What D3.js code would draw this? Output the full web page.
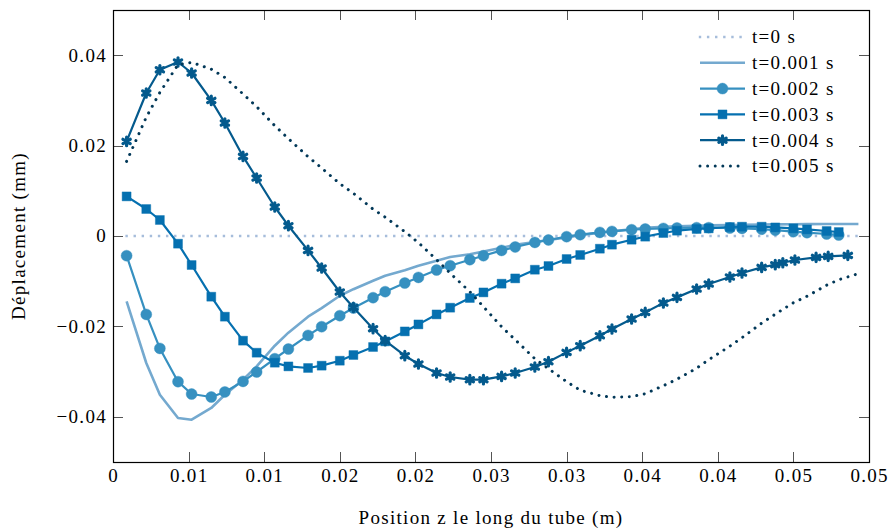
<!DOCTYPE html>
<html><head><meta charset="utf-8">
<script src="https://cdn.jsdelivr.net/npm/d3@7"></script>
<style>
body{margin:0;background:#fff}
svg{display:block}
text{font-family:"Liberation Serif","Times New Roman",serif;fill:#000;letter-spacing:1.3px}
</style>
</head><body>
<svg id="chart" width="889" height="531"></svg>
<script>
// ---- data (positions in m, displacement in mm) ----
const zGrid = [0.0009,0.0022,0.0031,0.0043,0.0052,0.0065,0.0074,0.0086,0.0095,0.0107,
  0.0116,0.0129,0.0138,0.0150,0.0159,0.0172,0.0180,0.0193,0.0202,0.0214,
  0.0223,0.0236,0.0245,0.0257,0.0266,0.0279,0.0288,0.0300,0.0309,0.0322,
  0.0330,0.0343,0.0352,0.0364,0.0373,0.0386,0.0394,0.0408,0.0416,0.0429,
  0.0438,0.0450,0.0459,0.0472,0.0480];
const zEnd = [0.0493];
const zStarTail = [0.0443,0.0451,0.0465,0.0473,0.0486];

const u_t0 = [0, 0];
const u_t001 = [-0.01447,-0.02810,-0.03511,-0.04027,-0.04064,-0.03805,-0.03511,-0.03179,-0.02885,-0.02427,
  -0.02139,-0.01785,-0.01597,-0.01321,-0.01177,-0.00989,-0.00878,-0.00757,-0.00657,-0.00546,
  -0.00465,-0.00403,-0.00341,-0.00259,-0.00197,-0.00133,-0.00088,-0.00033,0.00018,0.00073,
  0.00106,0.00150,0.00184,0.00206,0.00215,0.00228,0.00235,0.00243,0.00248,0.00254,
  0.00257,0.00261,0.00263,0.00265,0.00265,0.00266];
const u_t002 = [-0.00436,-0.01735,-0.02487,-0.03223,-0.03496,-0.03562,-0.03451,-0.03217,-0.03009,-0.02715,
  -0.02500,-0.02199,-0.02007,-0.01763,-0.01593,-0.01365,-0.01232,-0.01040,-0.00916,-0.00752,
  -0.00657,-0.00524,-0.00436,-0.00319,-0.00243,-0.00142,-0.00088,-0.00015,0.00029,0.00080,
  0.00102,0.00139,0.00155,0.00168,0.00177,0.00184,0.00184,0.00177,0.00168,0.00150,
  0.00128,0.00095,0.00073,0.00044,0.00022];
const u_t003 = [0.00876,0.00597,0.00354,-0.00170,-0.00642,-0.01343,-0.01785,-0.02316,-0.02582,-0.02803,
  -0.02885,-0.02920,-0.02869,-0.02759,-0.02633,-0.02456,-0.02332,-0.02111,-0.01956,-0.01735,
  -0.01586,-0.01372,-0.01248,-0.01055,-0.00938,-0.00746,-0.00664,-0.00509,-0.00420,-0.00281,
  -0.00192,-0.00082,-0.00015,0.00066,0.00117,0.00155,0.00168,0.00199,0.00206,0.00206,
  0.00190,0.00168,0.00146,0.00111,0.00088];
const u_t004 = [0.02093,0.03164,0.03679,0.03850,0.03606,0.03000,0.02500,0.01761,0.01283,0.00642,
  0.00228,-0.00319,-0.00708,-0.01239,-0.01580,-0.02051,-0.02316,-0.02648,-0.02832,-0.03031,
  -0.03119,-0.03179,-0.03179,-0.03106,-0.03031,-0.02898,-0.02781,-0.02575,-0.02427,-0.02206,
  -0.02058,-0.01836,-0.01690,-0.01482,-0.01358,-0.01173,-0.01062,-0.00907,-0.00819,-0.00695,
  -0.00635,-0.00591,-0.00531,-0.00473,-0.00451,-0.00429];
const u_t005 = [0.01650,0.02628,0.03177,0.03790,0.03841,0.03690,0.03507,0.03142,0.02861,0.02440,
  0.02153,0.01754,0.01504,0.01157,0.00945,0.00593,0.00416,0.00095,-0.00148,-0.00524,
  -0.00823,-0.01232,-0.01564,-0.02007,-0.02294,-0.02715,-0.02936,-0.03223,-0.03412,-0.03533,
  -0.03566,-0.03555,-0.03489,-0.03312,-0.03168,-0.02925,-0.02737,-0.02438,-0.02250,-0.01929,
  -0.01730,-0.01476,-0.01332,-0.01088,-0.00967,-0.00834];

const seriesNames = ["t=0 s","t=0.001 s","t=0.002 s","t=0.003 s","t=0.004 s","t=0.005 s"];
const xTicks = [0,0.005,0.01,0.015,0.02,0.025,0.03,0.035,0.04,0.045,0.05];
const xTickLabels = ["0","0.01","0.01","0.02","0.02","0.03","0.03","0.04","0.04","0.05","0.05"];
const yTicks = [-0.04,-0.02,0,0.02,0.04];
const yTickLabels = ["\u22120.04","\u22120.02","0","0.02","0.04"];

// ---- build series ----
const zFull = zGrid.concat(zEnd);
const zStar = zGrid.slice(0, 41).concat(zStarTail);
const series = [
  {name: seriesNames[0], z: [zGrid[0], zEnd[0]], u: u_t0, color: "#a6bddb", dash: "0.01,8.1", cap: "square", marker: null, width: 2.4},
  {name: seriesNames[1], z: zFull, u: u_t001, color: "#74a9cf", dash: null, cap: "butt", marker: null, width: 2.6},
  {name: seriesNames[2], z: zGrid, u: u_t002, color: "#3690c0", dash: null, cap: "butt", marker: "circle", width: 2.2},
  {name: seriesNames[3], z: zGrid, u: u_t003, color: "#0570b0", dash: null, cap: "butt", marker: "square", width: 2.2},
  {name: seriesNames[4], z: zStar, u: u_t004, color: "#045a8d", dash: null, cap: "butt", marker: "star", width: 2.2},
  {name: seriesNames[5], z: zFull, u: u_t005, color: "#023858", dash: "0.01,7.6", cap: "round", marker: null, width: 3}
];

const W = 889, H = 531;
const m = {left: 113, right: 20, top: 10, bottom: 69};
const svg = d3.select("#chart");
const x = d3.scaleLinear().domain([0, 0.05]).range([m.left, W - m.right]);
const y = d3.scaleLinear().domain([-0.05, 0.05]).range([H - m.bottom, m.top]);

const g = svg.append("g");

// series
const line = d3.line().x(d => x(d[0])).y(d => y(d[1]));
function markerPath(type) {
  if (type === "circle") return d3.symbol(d3.symbolCircle, 95)();
  if (type === "square") return d3.symbol(d3.symbolSquare, 80)();
  if (type === "star") return d3.symbol(d3.symbolAsterisk, 50)();
  return null;
}
function drawMarker(sel, s, px, py) {
  const p = sel.append("path").attr("d", markerPath(s.marker))
    .attr("transform", `translate(${px},${py})`);
  if (s.marker === "star") {
    p.attr("fill", "none").attr("stroke", s.color).attr("stroke-width", 3.2).attr("stroke-linecap","round");
  } else {
    p.attr("fill", s.color).attr("stroke", s.color).attr("stroke-opacity", 0.5).attr("stroke-width", 0.8);
  }
}

series.forEach(s => {
  const pts = s.z.map((z, i) => [z, s.u[i]]);
  const sg = g.append("g");
  sg.append("path").attr("d", line(pts)).attr("fill", "none")
    .attr("stroke", s.color).attr("stroke-width", s.width)
    .attr("stroke-linejoin", "round")
    .attr("stroke-dasharray", s.dash)
    .attr("stroke-linecap", s.cap);
  if (s.marker) pts.forEach(p => drawMarker(sg, s, x(p[0]), y(p[1])));
});

// frame & ticks
const x0 = x.range()[0], x1 = x.range()[1], y0 = y.range()[0], y1 = y.range()[1];
const tl = 10;
const fs = "19px";
const axG = svg.append("g");
xTicks.forEach((t, i) => {
  const px = Math.round(x(t)) + 0.5;
  axG.append("line").attr("x1", px).attr("x2", px).attr("y1", y0).attr("y2", y0 - tl).attr("stroke", "#555").attr("stroke-width", 1);
  axG.append("line").attr("x1", px).attr("x2", px).attr("y1", y1).attr("y2", y1 + tl).attr("stroke", "#555").attr("stroke-width", 1);
  axG.append("text").attr("x", x(t) + 0.65).attr("y", y0 + 20).attr("text-anchor", "middle")
    .style("font-size", fs).text(xTickLabels[i]);
});
yTicks.forEach((t, i) => {
  const py = Math.round(y(t)) + 0.5;
  axG.append("line").attr("x1", x0).attr("x2", x0 + tl).attr("y1", py).attr("y2", py).attr("stroke", "#555").attr("stroke-width", 1);
  axG.append("line").attr("x1", x1).attr("x2", x1 - tl).attr("y1", py).attr("y2", py).attr("stroke", "#555").attr("stroke-width", 1);
  axG.append("text").attr("x", x0 - 6).attr("y", y(t)).attr("dy", "0.34em").attr("text-anchor", "end")
    .style("font-size", fs).text(yTickLabels[i]);
});
axG.append("rect").attr("x", x0 + 0.5).attr("y", y1 + 0.5).attr("width", x1 - x0).attr("height", y0 - y1)
  .attr("fill", "none").attr("stroke", "#000").attr("stroke-width", 1.2);

// axis labels
svg.append("text").attr("x", (x0 + x1) / 2).attr("y", 524).attr("text-anchor", "middle")
  .style("font-size", fs).text("Position z le long du tube (m)");
svg.append("text").attr("transform", `translate(25,${(y0 + y1) / 2}) rotate(-90)`).attr("text-anchor", "middle")
  .style("font-size", fs).text("Déplacement (mm)");

// legend
const lg = svg.append("g");
series.forEach((s, i) => {
  const ly = 37 + i * 25.8;
  lg.append("line").attr("x1", 700).attr("x2", 745).attr("y1", ly).attr("y2", ly)
    .attr("stroke", s.color).attr("stroke-width", s.width).attr("stroke-dasharray", s.dash)
    .attr("stroke-linecap", s.cap);
  if (s.marker) drawMarker(lg, s, 722.5, ly);
  lg.append("text").attr("x", 752).attr("y", ly).attr("dy", "0.34em").style("font-size", fs).text(s.name);
});
</script>
</body></html>
